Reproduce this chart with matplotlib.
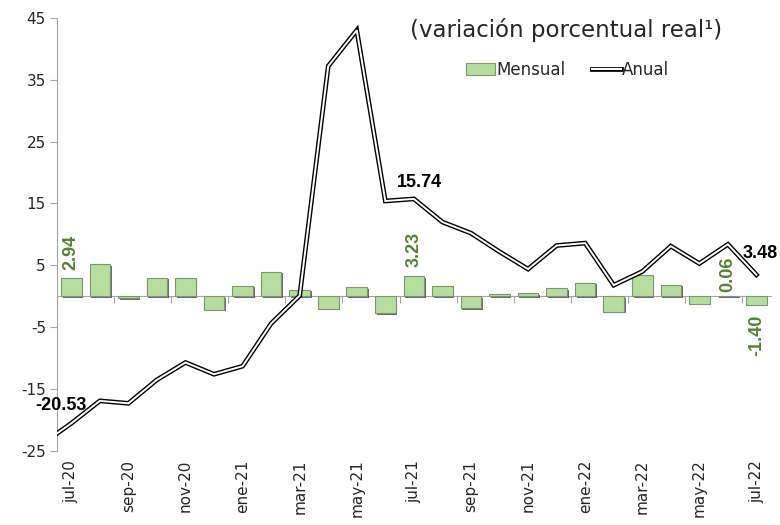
import numpy as np
import matplotlib.pyplot as plt
import matplotlib.patheffects as pe
from matplotlib.lines import Line2D
from matplotlib.patches import Patch

plt.rcParams['axes.unicode_minus'] = False

months = ['jul-20', 'ago-20', 'sep-20', 'oct-20', 'nov-20', 'dic-20',
          'ene-21', 'feb-21', 'mar-21', 'abr-21', 'may-21', 'jun-21',
          'jul-21', 'ago-21', 'sep-21', 'oct-21', 'nov-21', 'dic-21',
          'ene-22', 'feb-22', 'mar-22', 'abr-22', 'may-22', 'jun-22', 'jul-22']
tick_months = months[::2]

mensual = [2.94, 5.2, -0.3, 3.0, 3.0, -2.2, 1.7, 4.0, 1.0, -2.0, 1.45, -2.75,
           3.23, 1.7, -1.95, 0.3, 0.5, 1.3, 2.2, -2.5, 3.4, 1.9, -1.25, 0.06, -1.40]
# annual series, starting one month earlier (jun-20 is cut off at the axis)
anual_prev = -23.8
anual = [-20.53, -16.9, -17.3, -13.5, -10.7, -12.6, -11.3, -4.4, 0.1, 37.2, 43.0, 15.4,
         15.74, 12.0, 10.2, 7.2, 4.4, 8.2, 8.6, 1.8, 4.0, 8.1, 5.3, 8.4, 3.48]

x = np.arange(len(months))
green_lbl = '#548235'

fig = plt.figure(figsize=(7.8, 5.25), dpi=100)
ax = fig.add_axes((0.0731, 0.141, 0.915, 0.825))

#Bars:
bars = ax.bar(x, mensual, width=0.72, color='#b5de9e', edgecolor='#7d9571',
              linewidth=0.8, zorder=2)
for b in bars:
    b.set_path_effects([pe.SimplePatchShadow(offset=(1.2, -1.0), shadow_rgbFace='#3a3a3a', alpha=0.75),
                        pe.Normal()])

#Annual line (double line look):
xl = np.concatenate([[-1], x])
yl = np.concatenate([[anual_prev], anual])
ax.plot(xl, yl, color='black', lw=3.4, zorder=3, solid_joinstyle='miter')
ax.plot(xl, yl, color='white', lw=1.4, zorder=4, solid_joinstyle='miter')

#Axes:
ax.set_xlim(-0.5, len(months) - 0.5)
ax.set_ylim(-25, 45)
ax.set_yticks(np.arange(-25, 46, 10))
ax.spines['top'].set_visible(False)
ax.spines['right'].set_visible(False)
ax.spines['left'].set_color('#a6a6a6')
ax.spines['bottom'].set_position(('data', 0))
ax.spines['bottom'].set_color('#a6a6a6')
ax.spines['bottom'].set_zorder(1)
ax.set_xticks(np.arange(-0.5, len(months), 2))
ax.tick_params(axis='x', length=5, color='#a6a6a6', labelbottom=False, direction='out')
ax.tick_params(axis='y', length=5, color='#a6a6a6', labelsize=11, labelcolor='#262626', pad=3)
ax.patch.set_visible(False)

#X labels at the bottom:
for xi, lab in zip(x[::2], tick_months):
    ax.text(xi, -0.02, lab, transform=ax.get_xaxis_transform(), rotation=90,
            ha='center', va='top', fontsize=11, color='#262626')

#Data labels:
def anual_lbl(i, dx, dy, ha):
    ax.annotate(f'{anual[i]:.2f}', (x[i], anual[i]), xytext=(dx, dy), textcoords='offset points',
                ha=ha, va='center', fontsize=13, fontweight='bold', color='black',
                family='Liberation Sans', zorder=6, annotation_clip=False)

anual_lbl(0, 11, 13, 'right')
anual_lbl(12, 4, 12, 'center')
anual_lbl(24, -10, 15, 'left')

def mens_lbl(i, dy):
    v = mensual[i]
    ax.annotate(f'{v:.2f}', (x[i], v), xytext=(0, dy), textcoords='offset points',
                ha='center', va='bottom' if dy > 0 else 'top', rotation=90,
                fontsize=13, fontweight='bold', color=green_lbl,
                family='Liberation Sans', zorder=6)

mens_lbl(0, 6)
mens_lbl(12, 7)
mens_lbl(23, 2.5)
mens_lbl(24, -7)

#Title and legend:
fig.text(0.726, 0.943, '(variación porcentual real¹)', ha='center', va='center',
         fontsize=16.5, color='#262626')
h_bar = Patch(facecolor='#b5de9e', edgecolor='#7d9571', linewidth=0.8)
h_line = (Line2D([], [], color='black', lw=3.4), Line2D([], [], color='white', lw=1.4))
fig.legend([h_bar, h_line], ['Mensual', 'Anual'], loc='center', bbox_to_anchor=(0.728, 0.867),
           ncol=2, frameon=False, fontsize=12, handlelength=1.7, handletextpad=0.1,
           columnspacing=1.6, labelcolor='#262626')

fig.savefig('out.png', dpi=100)
